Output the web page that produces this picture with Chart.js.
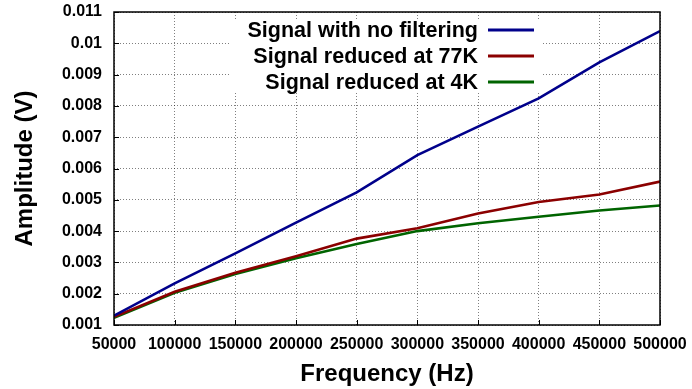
<!DOCTYPE html>
<html>
<head>
<meta charset="utf-8">
<script src="https://cdn.jsdelivr.net/npm/chart.js@4/dist/chart.umd.min.js"></script>
<style>
  html, body { margin: 0; padding: 0; background: #fff; }
  #wrap { width: 692px; height: 389px; position: relative; }
</style>
</head>
<body>
<div id="wrap"><canvas id="c" width="692" height="389"></canvas></div>
<script>
const frequencies = [50000, 100000, 150000, 200000, 250000, 300000, 350000, 400000, 450000, 500000];
const noFiltering = [0.00130, 0.00233, 0.00329, 0.00427, 0.00524, 0.00643, 0.00734, 0.00824, 0.00939, 0.01039];
const reduced77K  = [0.00126, 0.00206, 0.00267, 0.00320, 0.00376, 0.00409, 0.00456, 0.00493, 0.00517, 0.00558];
const reduced4K   = [0.00123, 0.00203, 0.00263, 0.00313, 0.00359, 0.00400, 0.00425, 0.00446, 0.00466, 0.00482];
const seriesNames = ['Signal with no filtering', 'Signal reduced at 77K', 'Signal reduced at 4K'];
const seriesColors = ['#00008b', '#8b0000', '#006400'];
const xTitle = 'Frequency (Hz)';
const yTitle = 'Amplitude (V)';

const FONT = '"Liberation Sans", Arial, Helvetica, sans-serif';

function pts(ys) { return frequencies.map((x, i) => ({ x: x, y: ys[i] })); }

const keyPlugin = {
  id: 'gnuKey',
  beforeDatasetsDraw(chart) {
    const ctx = chart.ctx;
    ctx.save();
    ctx.fillStyle = '#fff';
    ctx.fillRect(230, 19, 313, 74);
    ctx.restore();
  },
  afterDraw(chart) {
    const ctx = chart.ctx;
    const a = chart.chartArea;
    ctx.save();
    ctx.strokeStyle = '#000';
    ctx.lineWidth = 1.5;
    ctx.strokeRect(a.left, a.top, a.right - a.left, a.bottom - a.top);
    ctx.lineWidth = 1;
    const ys = chart.scales.y, xs = chart.scales.x;
    ys.ticks.forEach(t => {
      const p = Math.round(ys.getPixelForValue(t.value)) + 0.5;
      ctx.beginPath(); ctx.moveTo(a.left, p); ctx.lineTo(a.left + 5, p); ctx.stroke();
    });
    xs.ticks.forEach(t => {
      const p = Math.round(xs.getPixelForValue(t.value)) + 0.5;
      ctx.beginPath(); ctx.moveTo(p, a.bottom); ctx.lineTo(p, a.bottom - 5); ctx.stroke();
    });
    ctx.font = 'bold 21.5px ' + FONT;
    ctx.textAlign = 'right';
    ctx.textBaseline = 'middle';
    const rows = [30, 56, 82];
    seriesNames.forEach((n, i) => {
      ctx.fillStyle = '#000';
      ctx.fillText(n, 478, rows[i] + 1);
      ctx.strokeStyle = seriesColors[i];
      ctx.lineWidth = 3;
      ctx.beginPath(); ctx.moveTo(488, rows[i]); ctx.lineTo(534, rows[i]); ctx.stroke();
    });
    ctx.restore();
  }
};

new Chart(document.getElementById('c'), {
  type: 'line',
  data: {
    datasets: [
      { label: seriesNames[0], data: pts(noFiltering), borderColor: seriesColors[0], borderWidth: 2.6, pointRadius: 0, tension: 0, fill: false },
      { label: seriesNames[1], data: pts(reduced77K), borderColor: seriesColors[1], borderWidth: 2.6, pointRadius: 0, tension: 0, fill: false },
      { label: seriesNames[2], data: pts(reduced4K), borderColor: seriesColors[2], borderWidth: 2.6, pointRadius: 0, tension: 0, fill: false }
    ]
  },
  options: {
    responsive: false,
    animation: false,
    layout: { padding: { left: 0, right: 32, top: 12, bottom: 0 } },
    plugins: { legend: { display: false }, tooltip: { enabled: false } },
    scales: {
      x: {
        type: 'linear',
        min: 50000, max: 500000,
        afterFit(s) { s.height = 64; s.paddingLeft = 0; s.paddingRight = 0; },
        ticks: {
          stepSize: 50000,
          padding: 10,
          maxRotation: 0,
          autoSkip: false,
          color: '#000',
          font: { family: FONT, size: 16, weight: 'bold' },
          callback: v => String(v)
        },
        grid: { color: 'rgba(0,0,0,0.5)', lineWidth: 1, drawTicks: false },
        border: { display: false, dash: [1, 2] },
        title: { display: true, text: xTitle, color: '#000', padding: { top: 5, bottom: 0 },
                 font: { family: FONT, size: 24, weight: 'bold' } }
      },
      y: {
        type: 'linear',
        min: 0.001, max: 0.011,
        afterFit(s) { s.width = 114; s.paddingTop = 0; s.paddingBottom = 0; },
        ticks: {
          stepSize: 0.001,
          padding: 12,
          color: '#000',
          font: { family: FONT, size: 16, weight: 'bold' },
          callback: v => String(Number(v.toFixed(3)))
        },
        grid: { color: 'rgba(0,0,0,0.5)', lineWidth: 1, drawTicks: false },
        border: { display: false, dash: [1, 2] },
        title: { display: true, text: yTitle, color: '#000', padding: { top: 11, bottom: 0 },
                 font: { family: FONT, size: 24, weight: 'bold' } }
      }
    }
  },
  plugins: [keyPlugin]
});
</script>
</body>
</html>
